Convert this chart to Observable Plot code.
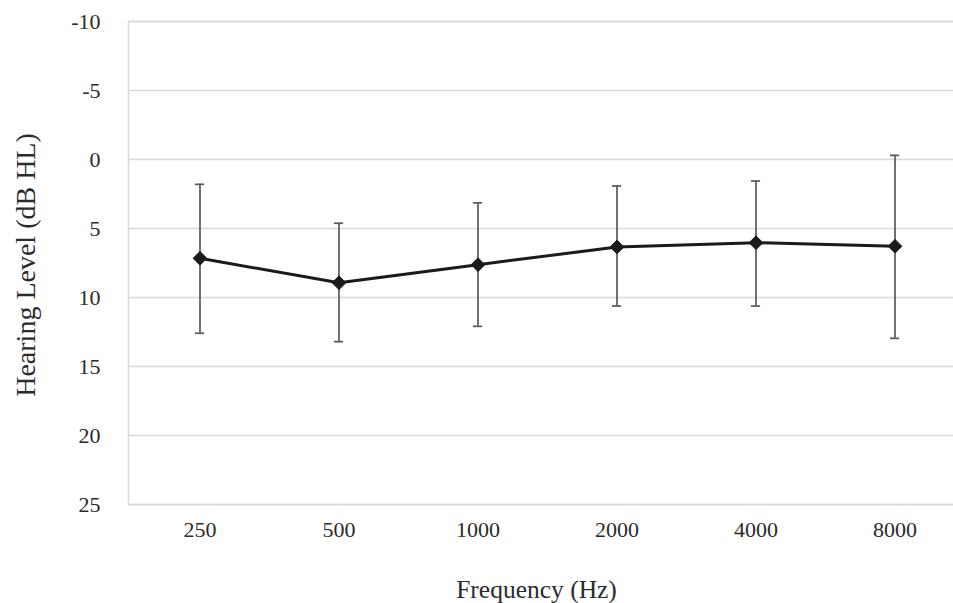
<!DOCTYPE html>
<html>
<head>
<meta charset="utf-8">
<script src="https://cdn.jsdelivr.net/npm/d3@7"></script>
<script src="https://cdn.jsdelivr.net/npm/@observablehq/plot@0.6"></script>
<style>
  html, body { margin: 0; padding: 0; background: #fff; overflow: hidden; }
  #chart { width: 953px; height: 603px; overflow: hidden; }
  #chart svg { max-width: none !important; width: 966px !important; height: 603px !important; }
  #chart svg, #chart svg text { font-family: "Liberation Serif", "Tinos", "DejaVu Serif", serif !important; }
</style>
</head>
<body>
<div id="chart"></div>
<script>
const frequencies = ["250", "500", "1000", "2000", "4000", "8000"];
const meanLevel = [7.16, 8.93, 7.62, 6.34, 6.03, 6.29];
const lowerBound = [1.80, 4.62, 3.14, 1.92, 1.56, -0.30];
const upperBound = [12.59, 13.20, 12.09, 10.62, 10.62, 12.96];
const yTicks = [-10, -5, 0, 5, 10, 15, 20, 25];
const xTitle = "Frequency (Hz)";
const yTitle = "Hearing Level (dB HL)";

const data = frequencies.map((f, i) => ({
  freq: f, mean: meanLevel[i], lo: lowerBound[i], hi: upperBound[i]
}));

const textColor = "#2b2b2b";

const chart = Plot.plot({
  width: 966,
  height: 603,
  marginLeft: 128,
  marginRight: 0,
  marginTop: 21,
  marginBottom: 99,
  style: { fontSize: "22px", color: textColor, background: "#fff", overflow: "visible" },
  x: { type: "band", domain: frequencies, padding: 0, axis: null },
  y: { domain: [-10, 25], reverse: true, axis: null },
  marks: [
    Plot.gridY(yTicks, { stroke: "#d9d9d9", strokeOpacity: 1, strokeWidth: 1.6 }),
    Plot.frame({ stroke: "#d9d9d9", strokeWidth: 1.6 }),
    Plot.axisY(yTicks, { tickSize: 0, tickPadding: 28, label: null, fontSize: 22, fill: textColor, tickFormat: d => String(d) }),
    Plot.axisX(frequencies, { tickSize: 0, tickPadding: 17, label: null, fontSize: 22, fill: textColor }),
    Plot.ruleX(data, { x: "freq", y1: "lo", y2: "hi", stroke: "#595959", strokeWidth: 1.7 }),
    Plot.tickY(data, { x: "freq", y: "lo", stroke: "#595959", strokeWidth: 1.7, insetLeft: 64.9, insetRight: 64.9 }),
    Plot.tickY(data, { x: "freq", y: "hi", stroke: "#595959", strokeWidth: 1.7, insetLeft: 64.9, insetRight: 64.9 }),
    Plot.line(data, { x: "freq", y: "mean", stroke: "#1a1a1a", strokeWidth: 3 }),
    Plot.dot(data, { x: "freq", y: "mean", symbol: "diamond2", r: 6.2, fill: "#1a1a1a", stroke: "#1a1a1a", strokeWidth: 1 }),
    Plot.text([xTitle], { frameAnchor: "bottom", dy: 93, dx: -11, fontSize: 25.5, fill: textColor }),
    Plot.text([yTitle], { frameAnchor: "left", textAnchor: "middle", rotate: -90, dx: -102, dy: 2, fontSize: 28, fill: textColor })
  ]
});

document.getElementById("chart").appendChild(chart);
</script>
</body>
</html>
